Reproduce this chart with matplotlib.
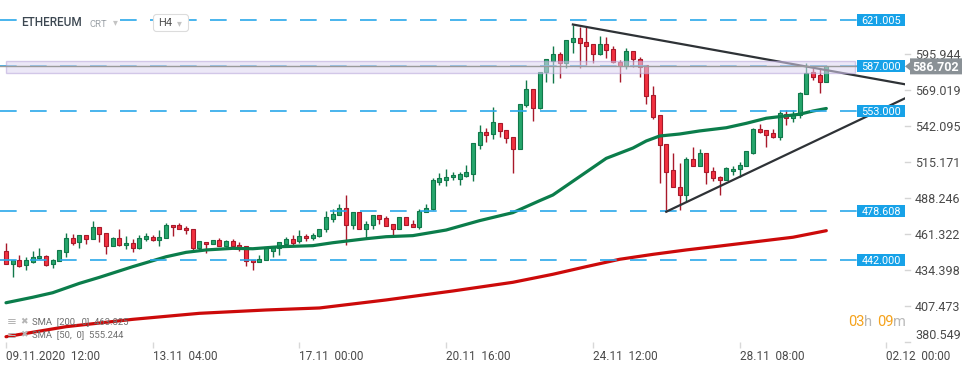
import numpy as np
import matplotlib
matplotlib.use("Agg")
import matplotlib.pyplot as plt
from matplotlib.patches import Rectangle, Polygon, FancyBboxPatch
from matplotlib.transforms import blended_transform_factory, Affine2D

# ---------------- data ----------------
opens = [448.6, 438.7, 441.7, 437.9, 440.6, 443.2, 444.6, 438.7, 440.9, 448.1,
         458.1, 455.1, 460.4, 457.4, 466.3, 461.8, 452.1, 458.1, 452.9, 454.4,
         451.1, 457.4, 458.9, 456.6, 458.1, 467.8, 467.8, 465.6, 464.8, 450.6,
         455.1, 453.5, 456.6, 452.6, 456.1, 452.9, 452.6, 441.7, 440.2, 441.7,
         448.8, 450.6, 454.1, 457.4, 455.9, 459.6, 458.1, 459.6, 464.8, 472.3,
         475.3, 480.5, 467.8, 477.6, 464.8, 467.8, 475.3, 473.1, 468.6, 464.8,
         473.8, 468.7, 466.9, 477.6, 479.8, 500.4, 501.9, 503.6, 502.7, 504.9,
         506.4, 528.1, 537.4, 536.3, 544.1, 539.1, 533.6, 524.7, 557.6, 569.8,
         555.3, 582.7, 590.9, 595.7, 589.0, 605.1, 607.9, 604.7, 603.2, 596.2,
         603.2, 599.5, 590.2, 587.2, 598.0, 592.0, 587.7, 565.1, 550.2, 528.4,
         509.0, 496.3, 490.3, 517.2, 512.4, 521.7, 508.7, 503.7, 501.9, 508.7,
         509.7, 512.0, 521.9, 539.6, 538.9, 536.9, 533.6, 550.9, 547.9, 550.3,
         565.8, 582.3, 580.2, 575.2]
highs = [454.8, 441.7, 445.6, 444.1, 448.6, 450.6, 445.4, 442.4, 449.1, 462.1,
         461.3, 460.4, 460.4, 470.8, 466.8, 461.8, 458.9, 464.8, 459.8, 457.4,
         460.4, 461.8, 460.4, 464.1, 469.3, 468.3, 469.3, 467.1, 464.8, 456.3,
         455.6, 456.6, 458.1, 457.1, 457.4, 455.1, 452.6, 441.7, 445.4, 451.8,
         451.8, 455.1, 458.9, 460.6, 464.3, 461.3, 462.1, 465.3, 478.5, 479.8,
         483.8, 490.3, 477.6, 477.6, 471.0, 475.3, 475.3, 474.6, 468.6, 473.8,
         473.8, 471.8, 479.8, 483.6, 503.1, 506.7, 509.8, 507.5, 507.9, 512.9,
         529.2, 542.8, 540.6, 556.3, 544.1, 539.1, 533.6, 558.6, 576.5, 569.8,
         582.7, 592.2, 601.9, 597.7, 606.2, 617.6, 615.9, 616.9, 603.2, 609.4,
         608.4, 601.9, 591.5, 600.2, 598.0, 593.5, 587.7, 572.0, 550.2, 528.4,
         521.7, 514.2, 519.1, 526.2, 524.7, 521.7, 511.7, 504.7, 511.4, 512.2,
         515.0, 523.2, 540.8, 543.4, 538.9, 539.9, 554.3, 553.8, 553.8, 567.8,
         589.0, 585.3, 584.7, 587.7]
lows = [438.7, 429.4, 436.9, 434.6, 439.9, 442.4, 437.6, 436.1, 440.9, 444.3,
        453.3, 451.1, 454.1, 457.4, 455.6, 446.6, 452.1, 452.1, 450.3, 447.6,
        450.3, 455.9, 455.9, 452.6, 458.1, 460.1, 464.8, 461.3, 448.1, 449.4,
        446.8, 453.5, 452.6, 451.8, 451.8, 448.8, 437.6, 434.4, 440.2, 441.7,
        444.3, 445.8, 453.1, 453.1, 454.8, 456.3, 456.6, 458.9, 462.6, 470.5,
        475.3, 453.3, 464.8, 464.8, 458.3, 464.8, 468.8, 467.1, 459.8, 464.8,
        467.7, 466.9, 464.7, 477.6, 479.1, 498.2, 497.5, 501.9, 498.0, 503.7,
        501.2, 525.1, 530.4, 532.2, 533.6, 529.6, 507.2, 524.7, 556.5, 546.1,
        554.6, 575.2, 574.5, 577.8, 585.3, 596.5, 585.3, 587.7, 589.0, 595.4,
        593.0, 589.0, 575.2, 584.7, 586.4, 579.0, 558.8, 547.6, 499.7, 478.0,
        496.3, 479.3, 485.5, 512.4, 512.4, 498.5, 500.7, 490.5, 501.4, 505.7,
        504.2, 512.0, 521.2, 536.6, 526.6, 533.3, 531.9, 542.8, 545.3, 547.9,
        565.8, 576.7, 567.0, 575.2]
closes = [438.7, 441.7, 437.6, 441.7, 444.1, 444.6, 438.4, 441.9, 449.1, 458.1,
          454.8, 460.4, 457.4, 466.3, 461.1, 452.1, 458.1, 452.9, 454.6, 451.1,
          458.1, 459.6, 456.6, 458.9, 467.8, 466.3, 464.8, 464.1, 450.6, 455.9,
          453.5, 456.6, 452.6, 456.1, 452.3, 451.8, 441.1, 440.2, 442.6, 451.8,
          451.8, 455.1, 457.6, 454.8, 459.6, 458.1, 460.4, 465.3, 473.8, 476.1,
          480.5, 467.8, 477.6, 464.8, 468.6, 475.3, 472.3, 467.5, 464.8, 473.8,
          467.7, 466.9, 478.3, 480.5, 501.5, 503.1, 503.8, 505.3, 506.1, 507.5,
          529.2, 537.4, 535.7, 544.9, 538.1, 532.9, 524.7, 558.6, 569.8, 555.3,
          582.7, 592.2, 595.7, 589.0, 606.2, 607.9, 604.0, 602.2, 596.2, 603.2,
          598.7, 589.7, 587.2, 598.0, 592.0, 586.4, 564.2, 549.2, 527.7, 507.9,
          496.3, 490.3, 517.2, 512.4, 521.7, 507.5, 503.0, 501.9, 510.9, 510.2,
          512.7, 523.2, 539.9, 537.8, 535.6, 534.1, 551.6, 547.9, 551.3, 566.6,
          581.5, 579.0, 575.2, 586.7]

sma50_idx = [0, 4, 7, 11, 14, 19, 24, 27, 30, 34, 37, 41, 46, 49, 54, 57, 61, 66,
             71, 76, 80, 82, 86, 90, 94, 96, 98, 101, 104, 108, 111, 114, 116, 119, 121, 123]
sma50_val = [409.9, 414.0, 417.4, 424.4, 428.9, 436.9, 444.3, 447.6, 449.4, 450.6,
             450.3, 451.8, 452.6, 454.8, 457.8, 459.3, 460.1, 464.3, 471.3, 477.3,
             486.2, 490.5, 504.2, 517.9, 525.6, 530.9, 534.6, 536.1, 538.4, 540.8,
             544.1, 547.9, 549.1, 550.9, 553.3, 555.2]
sma200_idx = [0, 9, 19, 29, 39, 47, 57, 67, 76, 82, 87, 92, 97, 102, 107, 112, 118, 123]
sma200_val = [384.5, 392.0, 397.5, 402.0, 404.5, 406.0, 412.0, 418.7, 425.2, 431.2,
              436.9, 442.4, 446.1, 449.4, 452.3, 455.3, 458.9, 463.8]

trend_upper_i = [85, 134.8]
trend_upper_p = [618.0, 573.3]
trend_lower_i = [99, 134.8]
trend_lower_p = [478.0, 562.8]

levels = [621.005, 587.000, 553.000, 478.608, 442.000]
zone_low, zone_high = 581.9, 590.5
last_price = 586.702

ytick_vals = [380.549, 407.473, 434.398, 461.322, 488.246, 515.171, 542.095, 569.019, 595.944]
xtick_idx = [0, 22, 44, 66, 88, 110, 132]
xtick_labels = ['09.11.2020  12:00', '13.11  04:00', '17.11  00:00', '20.11  16:00',
                '24.11  12:00', '28.11  08:00', '02.12  00:00']

legend_lines = ['SMA  [200,  0]  463.825', 'SMA  [50,  0]  555.244']

# ---------------- style ----------------
plt.rcParams['font.family'] = ['Roboto', 'DejaVu Sans']
plt.rcParams['lines.scale_dashes'] = False

W, H = 974, 368
fig = plt.figure(figsize=(W / 100, H / 100), dpi=100)
fig.patch.set_facecolor('white')
ax = fig.add_axes([0, 26 / H, 905 / W, 342 / H])
ax.set_xlim(-0.9, 134.8)
ax.set_ylim(380.55, 636.33)
for s in ax.spines.values():
    s.set_visible(False)

pxx = Affine2D().scale(1 / W, 1) + fig.transFigure
bt = blended_transform_factory(pxx, ax.transData)
figpx = Affine2D().scale(1 / W, 1 / H) + fig.transFigure
ppx = (ax.get_ylim()[1] - ax.get_ylim()[0]) / 342.0  # price per pixel

def fy(y):
    return 1 - y / H

# ---------------- candles ----------------
o = np.array(opens); h = np.array(highs); l = np.array(lows); c = np.array(closes)
idx = np.arange(len(o))
up = c >= o
fill = np.where(up, '#26A66C', '#F2303F')
edge = np.where(up, '#11784A', '#A8192A')
ax.vlines(idx, l, h, colors=edge, linewidth=1.0, zorder=2)
ax.bar(idx, np.maximum(np.abs(c - o), 0.4), bottom=np.minimum(o, c), width=0.6,
       color=fill, edgecolor=edge, linewidth=0.8, zorder=3)

# ---------------- indicators ----------------
ax.plot(sma200_idx, sma200_val, color='#CC0A0A', lw=2.3, zorder=4,
        solid_capstyle='round', solid_joinstyle='round')
ax.plot(sma50_idx, sma50_val, color='#0B7D4B', lw=2.3, zorder=4,
        solid_capstyle='round', solid_joinstyle='round')
ax.plot(trend_upper_i, trend_upper_p, color='#2E3236', lw=1.6, zorder=5)
ax.plot(trend_lower_i, trend_lower_p, color='#2E3236', lw=1.6, zorder=5)

# horizontal levels
lab_x0 = (857 - 6) / 6.67
for lv in levels:
    ax.plot([-0.9, lab_x0], [lv, lv], color='#2AA8EA', lw=1.2, dashes=(12, 9.6), zorder=4)

# zone band
ax.add_patch(Rectangle((0.05, zone_low), 127.3, zone_high - zone_low, facecolor='#DED6F2',
                       alpha=0.55, edgecolor='#B6A4DA', lw=1.0, zorder=6))
ax.plot([-0.9, 134.8], [last_price, last_price], color='#9A9A9A', lw=1.0, zorder=7)

# level labels
for lv in levels:
    ax.add_patch(Rectangle((857, lv - 6 * ppx), 48, 12 * ppx, transform=bt,
                           facecolor='#17A2E8', edgecolor='none', zorder=8, clip_on=False))
    ax.text(881, lv, f'{lv:.3f}', transform=bt, ha='center', va='center_baseline',
            color='white', fontsize=7.8, zorder=9, clip_on=False)

# current price tag
p = last_price
poly = [(905, p), (910, p + 4 * ppx), (910, p + 8 * ppx), (962, p + 8 * ppx),
        (962, p - 8 * ppx), (910, p - 8 * ppx), (910, p - 4 * ppx)]
ax.add_patch(Polygon(poly, closed=True, transform=bt, facecolor='#8A9196',
                     edgecolor='none', zorder=8, clip_on=False))
ax.text(936, p, f'{p:.3f}', transform=bt, ha='center', va='center_baseline', color='white',
        fontsize=9, fontweight='bold', zorder=9, clip_on=False)

# ---------------- axes ticks ----------------
ax.set_yticks([])
for v in ytick_vals:
    ax.plot([905, 910], [v, v], transform=bt, color='#D5D5D5', lw=1, clip_on=False)
    va = 'bottom' if v == ytick_vals[0] else 'center_baseline'
    ax.text(915, v, f'{v:.3f}', transform=bt, ha='left', va=va, fontsize=9,
            color='#4A4A4A', clip_on=False)

ax.set_xticks(xtick_idx)
ax.set_xticklabels(xtick_labels, ha='left')
ax.tick_params(axis='x', length=4, width=1, color='#D8D8D8', pad=2, labelsize=8.5,
               labelcolor='#4A4A4A')

# ---------------- header ----------------
fig.text(21 / W, fy(23), 'ETHEREUM', fontsize=8.5, color='#3D4852', va='center', ha='left',
         fontweight='medium', bbox=dict(boxstyle='square,pad=0.1', fc='white', ec='none'))
fig.text(90 / W, fy(24.5), 'CRT', fontsize=6.8, color='#9AA0A6', va='center', ha='left',
         bbox=dict(boxstyle='square,pad=0.15', fc='white', ec='none'))
fig.text(113 / W, fy(22), '▾', fontsize=7, color='#C4C4C4', va='center', ha='left',
         family=['DejaVu Sans'])
fig.add_artist(FancyBboxPatch((153.5, H - 31.5), 35, 17, boxstyle='round,pad=0,rounding_size=3',
                              transform=figpx, facecolor='white', edgecolor='#DCDCDC', lw=0.8))
fig.text(158 / W, fy(23.5), 'H4', fontsize=8, color='#505050', va='center', ha='left')
fig.text(177 / W, fy(23), '▾', fontsize=7, color='#C4C4C4', va='center', ha='left',
         family=['DejaVu Sans'])

# ---------------- legend ----------------
for k, txt in enumerate(legend_lines):
    yy = 321.5 + 13.5 * k
    fig.text(7 / W, fy(yy), '≡', fontsize=8.5, color='#B5B5B5', va='center', ha='left',
             family=['DejaVu Sans'])
    fig.text(20 / W, fy(yy), '✖', fontsize=6.5, color='#B5B5B5', va='center', ha='left',
             family=['DejaVu Sans'])
    fig.text(32 / W, fy(yy), txt, fontsize=6.8, color='#6E6E6E', va='center', ha='left')

# ---------------- countdown ----------------
parts = [(848, '03', '#F5A21B'), (864, 'h', '#B8B8B8'), (877, '09', '#F5A21B'), (893, 'm', '#B8B8B8')]
for xx, t, col in parts:
    fig.text(xx / W, fy(322), t, fontsize=10.5, color=col, va='center', ha='left')

fig.savefig('out.png', dpi=100, facecolor='white')
